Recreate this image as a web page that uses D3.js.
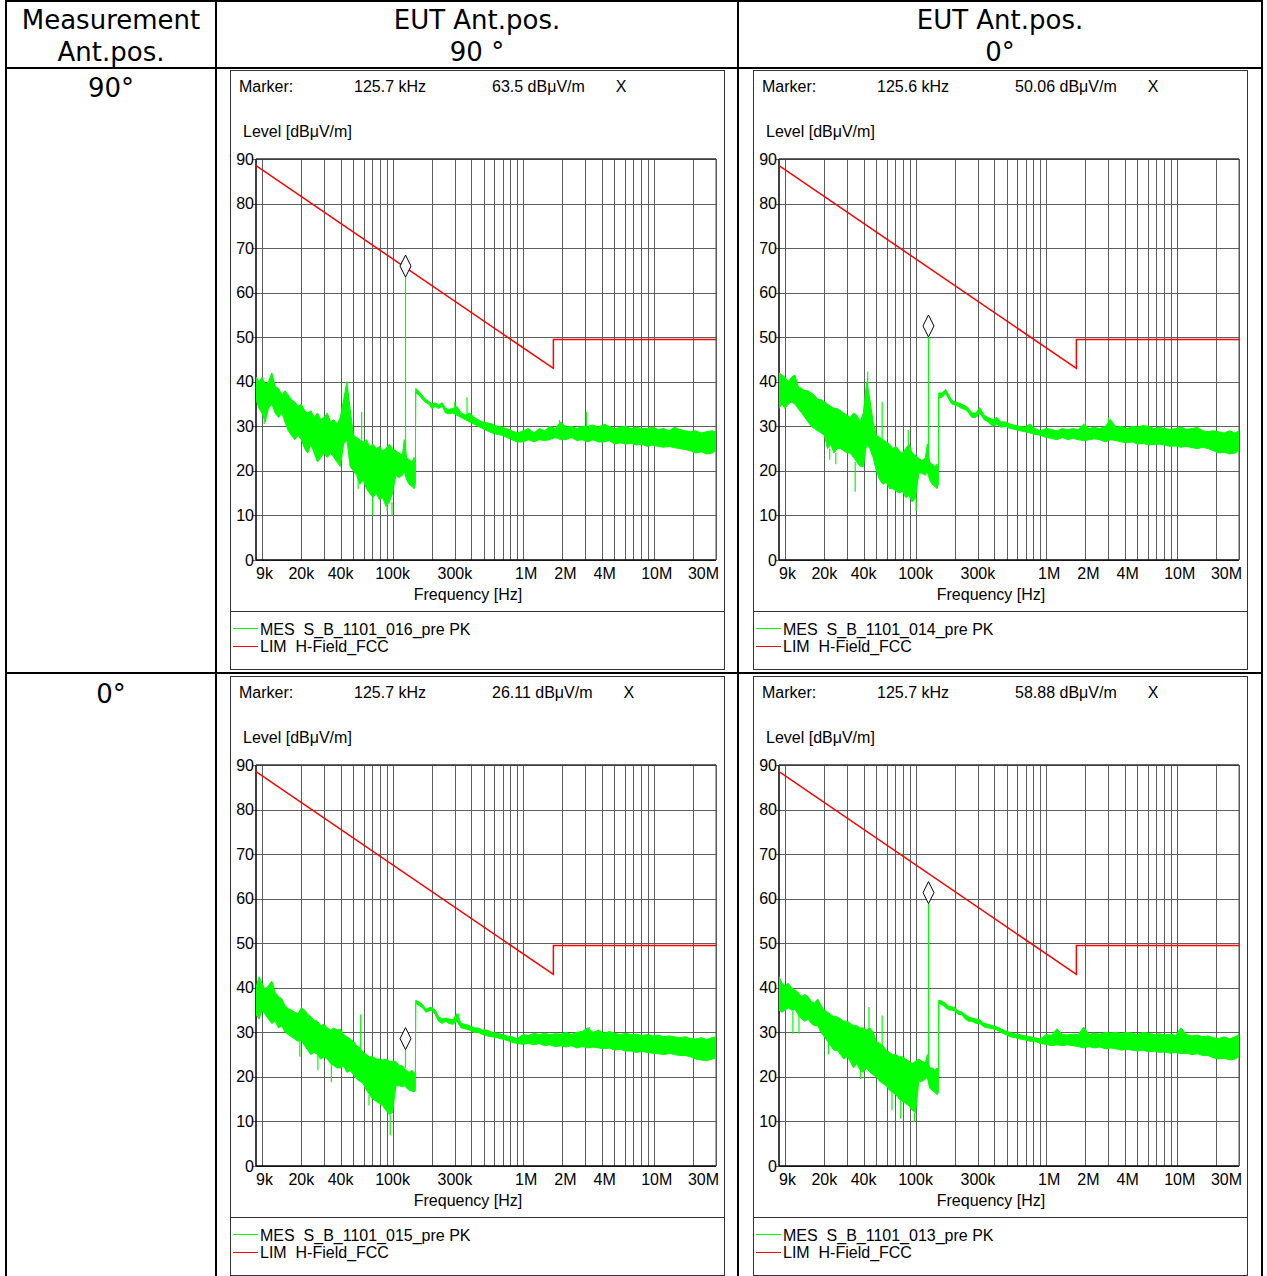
<!DOCTYPE html>
<meta charset="utf-8">
<script src="https://d3js.org/d3.v7.min.js"></script>
<style>
  body { margin: 0; background: #fff; }
  text { font-family: "Liberation Sans", Arial, sans-serif; font-size: 16px; fill: #000; }
  .hdr { font-family: "DejaVu Sans", Verdana, sans-serif; font-size: 26px; }
</style>
<div id="chart"></div>
<script>
// frequency points of the sweeps (kHz), shared by all four plots
var freqKHz = [
  9.0, 9.5, 10, 10.6, 11.2, 11.9, 12.6, 13.4, 14.2, 15,
  15.9, 16.8, 17.8, 18.9, 20, 21.2, 22.4, 23.7, 25.1, 26.6,
  28.2, 29.9, 31.6, 33.5, 35.5, 37.6, 39.8, 42.2, 44.7, 47.3,
  50.1, 53.1, 56.2, 59.6, 63.1, 66.8, 70.8, 75, 79.4, 84.1,
  89.1, 94.4, 100, 106, 112, 119, 123, 128, 134, 141,
  146, 149.5,
  150.5, 160, 170, 180, 190, 200, 212, 225, 240, 255,
  270, 290, 310, 335, 360, 390, 420, 450, 490, 530,
  580, 630, 690, 750, 820, 900,
  1000, 1100, 1210, 1330, 1460, 1600, 1760, 1940, 2130, 2340,
  2580, 2840, 3120, 3430, 3780, 4160, 4570, 5030, 5530, 6090,
  6700, 7370, 8100, 8910, 9800, 10800, 11900, 13100, 14400, 15800,
  17400, 19100, 21000, 23100, 25400, 28000, 30000
];

// S_B_1101_016 (EUT 90, meas 90) : min / max of the PK trace per point
var lo016 = [
  36, 34, 33, 31, 34, 35, 33, 32, 33, 31,
  29, 28, 27, 28, 27, 25, 24, 26, 24, 22,
  23, 24, 23, 24, 23, 22, 21, 26, 27, 21,
  20, 19, 17, 18, 16, 15, 14, 15, 13.5, 14,
  12, 13, 15, 19, 18.5, 19, 20, 18, 17, 16.5,
  16, 17,
  37.5, 37, 36, 35.3, 35, 34, 34.5, 34, 34.5, 33,
  32.8, 33, 32.5, 32, 31.5, 31, 30.5, 30, 29.5, 29,
  28.5, 28.2, 28, 27.5, 27, 26.5,
  26.5, 27, 26.5, 27, 26.8, 27, 27.5, 27, 27, 27.5,
  26.8, 27, 26.5, 27, 26.5, 26.5, 26.8, 26, 26.3, 26,
  26.2, 25.8, 26, 25.5, 25.8, 25.5, 25.3, 25.5, 25.2, 25,
  24.8, 24.5, 24, 24.3, 23.8, 24, 24.5
];
var hi016 = [
  41, 40, 41, 39.5, 40, 42, 39, 38.5, 37, 38,
  37, 36, 35.5, 34.5, 35, 33.5, 33, 33.5, 32, 33,
  31.5, 32, 33, 31, 31.5, 30.5, 32, 36, 40, 34,
  28, 27.5, 27, 26.5, 27, 25.5, 26, 25, 25.5, 24.5,
  25, 26, 25, 24.5, 24, 23.5, 27, 23, 22.5, 22,
  23, 22,
  38.5, 37.8, 36.8, 36, 35.6, 35, 35.3, 34.8, 35.3, 34,
  33.8, 34, 34.5, 33, 32.5, 33, 32, 31.5, 31, 30.8,
  30.5, 30, 29.8, 29.5, 29, 28.5,
  29, 29.5, 28.5, 29.5, 29, 30, 29.5, 31, 29.8, 30,
  29.5, 30, 30, 30.3, 29.8, 30.5, 30, 29.5, 29.8, 30,
  29.5, 29.8, 29.5, 29.5, 29.8, 29.3, 29.5, 29, 29.8, 29.3,
  29, 28.8, 29, 28.5, 28.8, 29, 28.7
];
// single lines sticking out of the band: [kHz, from dB, to dB]
var spikes016 = [[58, 27, 33.3], [125.7, 22, 63.5], [54.5, 19, 16], [70.5, 14, 10],
  [91, 12, 11], [99, 13, 10], [10.4, 33, 30.5], [300, 34, 35.5], [372, 32, 36.5],
  [1900, 29, 31.4], [3050, 29, 33.3]];

// S_B_1101_014 (EUT 0, meas 90)
var lo014 = [
  34, 35, 34, 35, 35.5, 35, 34, 33, 32, 31,
  30, 29.5, 29, 28.5, 28, 25, 26, 24, 25, 25,
  24.5, 24, 24, 23, 22, 21, 21, 26, 25, 23,
  20, 18, 17, 17.5, 16, 16, 15.5, 15, 15.5, 14,
  14.5, 13, 14, 19.5, 19.5, 19, 20, 18, 17, 16.5,
  16, 17,
  36.5, 36.5, 37.5, 36, 35, 34.8, 34.5, 34, 33.8, 33,
  32, 32, 33, 31.5, 31, 30, 30.5, 29.8, 30, 29.5,
  29.3, 29, 28.8, 28.5, 28.2, 28,
  27.5, 27.3, 27, 27.5, 27, 27.3, 27, 26.8, 27, 27.2,
  27, 26.5, 27, 26.8, 26.5, 26.3, 26.5, 26, 26.2, 25.8,
  26, 26, 25.8, 25.5, 25.6, 25.3, 25.5, 25.2, 25, 25.3,
  25, 24.5, 24, 24.2, 23.8, 24, 24.5
];
var hi014 = [
  42, 41.5, 41, 40, 41, 41.5, 39, 38.5, 38, 38,
  37.5, 37, 36, 36, 35.5, 35, 34.5, 34, 34, 33.5,
  33, 32.5, 32, 33, 32.5, 31, 33, 40, 36, 31,
  28, 27.5, 27, 26.5, 26, 25, 25.5, 24.5, 24, 25,
  26, 24, 23.5, 22.8, 22.3, 23, 26, 22, 21.5, 21,
  21.5, 21,
  37.5, 37.5, 38.3, 37, 35.8, 35.5, 35.3, 35, 34.6, 34,
  33, 33, 34.2, 32.5, 32, 31.5, 32, 31, 31, 30.5,
  30.2, 30, 29.8, 30.5, 29.5, 29,
  29.5, 29.3, 29, 29.5, 29.2, 29.5, 29.3, 30.5, 29.5, 29.8,
  29.5, 30, 31.5, 29.8, 30, 29.5, 30, 29.8, 30.2, 30,
  29.5, 29.8, 29.5, 29.3, 29.5, 29.8, 29.3, 29.5, 29.8, 29,
  28.8, 29, 28.8, 28.5, 29, 28.5, 29
];
var spikes014 = [[43, 30, 42.3], [34.5, 22, 15.3], [55.5, 27, 35.5], [88, 25, 29.2],
  [125.6, 22, 50.06], [101, 14, 11], [22, 25, 22.5], [24.5, 24, 21.5],
  [2000, 29, 31.3], [3000, 29.5, 32]];

// S_B_1101_015 (EUT 90, meas 0)
var lo015 = [
  34, 33, 35, 34, 33, 32, 32.5, 31, 31.5, 30,
  29.5, 29, 28.5, 28, 28.2, 27, 26, 25, 25.5, 25,
  24, 24.5, 24, 23, 22.5, 22, 22, 22.5, 21, 21.5,
  20.5, 19.5, 19, 18.5, 17, 16, 15, 14.5, 14, 13.5,
  12.5, 11.5, 12, 18, 18, 17.8, 18, 17.5, 17, 16.8,
  16.6, 17,
  36.5, 36, 35.5, 34.5, 34.8, 35, 34, 32.5, 32, 32.5,
  32, 31.8, 32.5, 31, 30.8, 30.5, 30, 30, 29.5, 29.2,
  29, 28.8, 28.5, 28.2, 27.8, 27.5,
  27.3, 27.5, 27.2, 27.5, 27, 27.2, 26.8, 27, 26.7, 27,
  26.5, 26.8, 26.5, 26.7, 26.5, 26.3, 26.5, 26, 26.2, 25.8,
  25.8, 25.5, 25.7, 25.5, 25.3, 25.2, 25, 25.3, 25, 24.8,
  24.8, 24.5, 24, 23.8, 23.6, 24, 24.3
];
var hi015 = [
  40, 42.5, 41, 39.5, 40.5, 41.5, 39, 38, 37.5, 36,
  35.3, 35, 34.5, 34.2, 35.5, 35, 34, 33.5, 32.7, 32.5,
  31.5, 31.8, 31, 30.5, 31, 30.5, 30.7, 29.5, 29, 28.5,
  28, 27, 26.5, 25.5, 25, 24.5, 24.5, 24, 24, 23.8,
  24, 23.5, 23.5, 23.5, 22.5, 22.5, 22, 21.5, 21, 21.5,
  20.8, 21,
  37.2, 36.8, 36.2, 35.2, 35.5, 35.6, 35, 33.5, 33, 33.2,
  33, 32.8, 34.2, 32, 31.8, 31.5, 31, 31, 30.5, 30.5,
  30, 29.8, 29.5, 29.2, 29, 28.6,
  29.5, 29.3, 29.8, 29.5, 29.8, 29.5, 29.7, 29.6, 30, 29.5,
  30, 30.2, 31, 30, 30.5, 29.8, 30.2, 29.8, 29.5, 29.8,
  29.5, 29.6, 29.3, 29.5, 29.2, 29.4, 29, 29.2, 29, 28.8,
  29, 28.6, 28.5, 28.8, 28.4, 28.8, 29
];
var spikes015 = [[57, 26, 34], [125.7, 22, 26.11], [19.5, 28, 24.5], [26.8, 25, 21.5],
  [34, 23, 18.8], [96, 11.5, 6.9], [66, 16, 13.6], [3200, 29, 31.2], [320, 32.5, 34.2]];

// S_B_1101_013 (EUT 0, meas 0)
var lo013 = [
  35, 34.5, 35, 35.5, 35, 35.2, 34, 33, 32.5, 33,
  32, 31.5, 31.5, 30, 29, 28, 27, 26, 26, 25,
  24, 24.5, 23.5, 22, 23, 21.5, 21, 22, 21, 20.5,
  20, 19, 18.5, 18, 17, 16.5, 16, 15, 14.5, 14,
  13.5, 12.5, 12, 19, 19, 19.5, 20, 17.5, 17, 16.5,
  16, 16.5,
  36.5, 36.2, 35.5, 35, 35, 34.8, 34, 34, 33, 32.5,
  32.5, 32, 32, 31.2, 31, 30.8, 30.5, 30, 29.5, 29,
  28.8, 28.5, 28.3, 28, 28, 27.5,
  27.3, 27, 27.2, 27, 27.2, 27, 26.8, 26.5, 26.8, 26.5,
  26.7, 26.3, 26.5, 26.3, 26, 26.2, 26, 25.8, 26, 25.6,
  25.8, 25.5, 25.6, 25.3, 25.5, 25.2, 25.3, 25, 25.2, 24.8,
  24.8, 24.3, 24, 24.2, 23.8, 24, 24.5
];
var hi013 = [
  42.5, 41, 40.5, 41, 40, 39.5, 39, 38, 38.5, 38,
  37, 36.5, 37.5, 36, 35, 34.5, 34, 33.5, 33.5, 33,
  32.5, 32.5, 32, 31.5, 31.5, 31, 31, 30.5, 31, 30,
  28, 27.5, 27, 26, 25.5, 25, 25, 24.5, 24.5, 24,
  23.5, 23, 23.5, 24, 23.5, 23.2, 25, 22, 22, 21.5,
  22, 21.5,
  37.2, 37, 36.5, 35.8, 35.7, 35.6, 34.8, 34.6, 34, 33.5,
  33.2, 33, 32.8, 32, 31.8, 31.5, 31.2, 30.8, 30.3, 30,
  29.6, 29.5, 29.2, 29, 28.8, 28.5,
  29.5, 29.3, 30.8, 29.5, 29.4, 29.6, 29.5, 31.2, 29.5, 29.8,
  29.6, 30, 29.8, 30, 29.7, 30, 29.8, 29.5, 30, 29.8,
  29.5, 29.7, 29.4, 29.6, 29.3, 31, 29.5, 29.2, 29.4, 29,
  29.2, 28.8, 28.6, 29, 28.5, 29, 29.5
];
var spikes013 = [[44, 30, 35.7], [55.5, 27, 33.8], [125.7, 22, 58.88], [11.5, 35, 29.7],
  [12.8, 34, 29.7], [21.5, 28, 25], [66, 17, 12.5], [77, 15, 10.6], [98, 12, 9.9], [38, 22, 19.5]];

// H-Field_FCC limit
var limFreq = [9, 1705, 1705, 30000];
var limLevel = [88.5, 43.0, 49.5, 49.5];

// markers
var markerKHz = [125.7, 125.6, 125.7, 125.7];
var markerFreqText = ["125.7 kHz", "125.6 kHz", "125.7 kHz", "125.7 kHz"];
var markerLevel = [63.5, 50.06, 26.11, 58.88];
var traceNames = ["MES  S_B_1101_016_pre PK", "MES  S_B_1101_014_pre PK",
                  "MES  S_B_1101_015_pre PK", "MES  S_B_1101_013_pre PK"];

var yTicks = [0, 10, 20, 30, 40, 50, 60, 70, 80, 90];
var xTickVals = [9, 20, 40, 100, 300, 1000, 2000, 4000, 10000, 30000];
var xTickLabels = ["9k", "20k", "40k", "100k", "300k", "1M", "2M", "4M", "10M", "30M"];

var lows = [lo016, lo014, lo015, lo013];
var highs = [hi016, hi014, hi015, hi013];
var spikes = [spikes016, spikes014, spikes015, spikes013];

var W = 1267, H = 1276;
var svg = d3.select("#chart").append("svg")
  .attr("width", W).attr("height", H);
svg.append("rect").attr("width", W).attr("height", H).attr("fill", "#fff");

// table around the plots
var tbl = svg.append("g").attr("stroke", "#000").attr("stroke-width", 2);
[[6, 1, 1262, 1], [6, 68, 1262, 68], [6, 673, 1262, 673],
 [6, 0, 6, H], [216, 0, 216, H], [738, 0, 738, H], [1262, 0, 1262, H]].forEach(function(l) {
  tbl.append("line").attr("x1", l[0]).attr("y1", l[1]).attr("x2", l[2]).attr("y2", l[3]);
});

var hdr = [["Measurement", 111, 29], ["Ant.pos.", 111, 61],
           ["EUT Ant.pos.", 477, 29], ["90 °", 477, 61],
           ["EUT Ant.pos.", 1000, 29], ["0°", 1000, 61],
           ["90°", 111, 97], ["0°", 111, 703]];
hdr.forEach(function(h) {
  svg.append("text").attr("class", "hdr").attr("x", h[1]).attr("y", h[2])
    .attr("text-anchor", "middle").style("white-space", "pre").text(h[0]);
});

var colX = [230, 753], rowY = [70, 676];
var green = "#00ff00", red = "#ff0000";

for (var p = 0; p < 4; p++) drawPanel(p);

function drawPanel(p) {
  var x0 = colX[p % 2], y0 = rowY[Math.floor(p / 2)];
  var g = svg.append("g");

  g.append("rect").attr("x", x0 + 0.5).attr("y", y0 + 0.5)
    .attr("width", 494).attr("height", 599)
    .attr("fill", "none").attr("stroke", "#333");

  // marker line
  g.append("text").attr("x", x0 + 9).attr("y", y0 + 22).text("Marker:");
  g.append("text").attr("x", x0 + 124).attr("y", y0 + 22).text(markerFreqText[p]);
  var mt = g.append("text").attr("x", x0 + 262).attr("y", y0 + 22);
  mt.append("tspan").text(markerLevel[p] + " dBμV/m");
  mt.append("tspan").attr("dx", 31).text("X");

  g.append("text").attr("x", x0 + 13).attr("y", y0 + 67).text("Level [dBμV/m]");

  var x = d3.scaleLog().domain([9, 30000]).range([x0 + 26, x0 + 486]);
  var y = d3.scaleLinear().domain([0, 90]).range([y0 + 490, y0 + 89]);

  // grid
  var grid = g.append("g").attr("stroke", "#5e5e5e").attr("stroke-width", 1)
    .attr("shape-rendering", "crispEdges");
  x.ticks().filter(function(v) { return v > 9; }).forEach(function(v) {
    grid.append("line").attr("x1", Math.round(x(v)) + 0.5).attr("x2", Math.round(x(v)) + 0.5)
      .attr("y1", y(90)).attr("y2", y(0));
  });
  yTicks.forEach(function(v) {
    grid.append("line").attr("x1", x(9) - 3).attr("x2", x(30000))
      .attr("y1", Math.round(y(v)) + 0.5).attr("y2", Math.round(y(v)) + 0.5);
  });
  // frame
  g.append("line").attr("x1", x(9)).attr("x2", x(9)).attr("y1", y(90)).attr("y2", y(0))
    .attr("stroke", "#000").attr("stroke-width", 1.5);
  g.append("line").attr("x1", x(9)).attr("x2", x(30000)).attr("y1", y(0)).attr("y2", y(0))
    .attr("stroke", "#000").attr("stroke-width", 1.5);
  g.append("line").attr("x1", x(9)).attr("x2", x(30000)).attr("y1", y(90)).attr("y2", y(90))
    .attr("stroke", "#333").attr("stroke-width", 1.5);
  g.append("line").attr("x1", x(30000)).attr("x2", x(30000)).attr("y1", y(90)).attr("y2", y(0))
    .attr("stroke", "#555").attr("stroke-width", 1);

  // tick labels
  yTicks.forEach(function(v) {
    g.append("text").attr("x", x0 + 24).attr("y", y(v) + 5.5)
      .attr("text-anchor", "end").text(v);
  });
  xTickVals.forEach(function(v, i) {
    var anchor = i === 0 ? "start" : (i === xTickVals.length - 1 ? "end" : "middle");
    var dx = v >= 1000 ? 3 : 0;
    g.append("text").attr("x", x(v) + dx).attr("y", y0 + 509)
      .attr("text-anchor", anchor).text(xTickLabels[i]);
  });
  g.append("text").attr("x", x0 + 238).attr("y", y0 + 530)
    .attr("text-anchor", "middle").text("Frequency [Hz]");

  // traces, clipped to the plot area
  var cid = "clip" + p;
  svg.append("clipPath").attr("id", cid).append("rect")
    .attr("x", x(9)).attr("y", y(90)).attr("width", x(30000) - x(9)).attr("height", y(0) - y(90));
  var plot = g.append("g").attr("clip-path", "url(#" + cid + ")");

  var lo = lows[p], hi = highs[p];
  var band = d3.area()
    .x(function(i) { return x(freqKHz[i]); })
    .y0(function(i) { return y(lo[i]); })
    .y1(function(i) { return y(hi[i]); });
  plot.append("path").attr("d", band(d3.range(freqKHz.length)))
    .attr("fill", green).attr("stroke", green).attr("stroke-width", 1);

  spikes[p].forEach(function(s) {
    plot.append("line").attr("x1", x(s[0])).attr("x2", x(s[0]))
      .attr("y1", y(s[1])).attr("y2", y(s[2]))
      .attr("stroke", green).attr("stroke-width", 1.2);
  });

  var lim = d3.line()
    .x(function(i) { return x(limFreq[i]); })
    .y(function(i) { return y(limLevel[i]); });
  plot.append("path").attr("d", lim(d3.range(limFreq.length)))
    .attr("fill", "none").attr("stroke", red).attr("stroke-width", 1.5);

  // marker diamond, lower tip on the marker level
  var mx = x(markerKHz[p]), my = y(markerLevel[p]);
  g.append("path")
    .attr("d", "M" + mx + "," + my + "L" + (mx + 5.5) + "," + (my - 11) +
               "L" + mx + "," + (my - 22) + "L" + (mx - 5.5) + "," + (my - 11) + "Z")
    .attr("fill", "#fff").attr("stroke", "#000").attr("stroke-width", 1);

  // legend
  g.append("line").attr("x1", x0).attr("x2", x0 + 494)
    .attr("y1", y0 + 541.5).attr("y2", y0 + 541.5).attr("stroke", "#333");
  g.append("line").attr("x1", x0 + 3).attr("x2", x0 + 28)
    .attr("y1", y0 + 558.5).attr("y2", y0 + 558.5)
    .attr("stroke", green).attr("stroke-width", 1.3).attr("shape-rendering", "crispEdges");
  g.append("text").attr("x", x0 + 30).attr("y", y0 + 565)
    .style("white-space", "pre").text(traceNames[p]);
  g.append("line").attr("x1", x0 + 3).attr("x2", x0 + 28)
    .attr("y1", y0 + 576.5).attr("y2", y0 + 576.5)
    .style("stroke", red).attr("stroke-width", 1.3).attr("shape-rendering", "crispEdges");
  g.append("text").attr("x", x0 + 30).attr("y", y0 + 582)
    .style("white-space", "pre").text("LIM  H-Field_FCC");
}
</script>
